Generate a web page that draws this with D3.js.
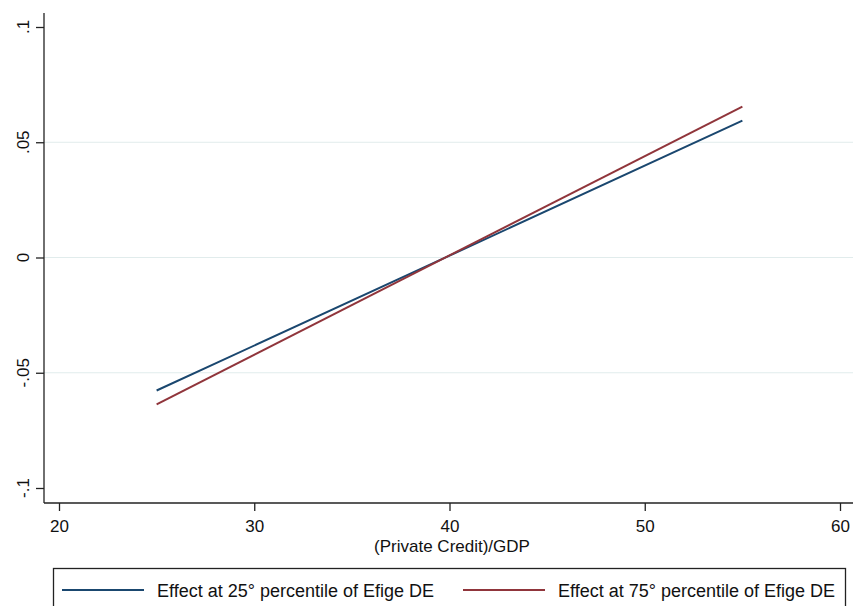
<!DOCTYPE html>
<html>
<head>
<meta charset="utf-8">
<script src="https://cdn.jsdelivr.net/npm/d3@7"></script>
<style>
  html, body { margin: 0; padding: 0; background: #fff; }
  svg { display: block; font-family: "Liberation Sans", Arial, sans-serif; }
</style>
</head>
<body>
<div id="chart"></div>
<script>
const xTicks = [20, 30, 40, 50, 60];
const yTicks = [-0.1, -0.05, 0, 0.05, 0.1];
const yTickLabels = ["-.1", "-.05", "0", ".05", ".1"];
const gridTicks = [-0.05, 0, 0.05];

const creditValues = [25, 40, 55];
const effect25 = [-0.0577, 0.0008, 0.0594];
const effect75 = [-0.0637, 0.0009, 0.0655];

const seriesNames = ["Effect at 25° percentile of Efige DE", "Effect at 75° percentile of Efige DE"];
const seriesColors = ["#1a476f", "#90353b"];

const width = 853, height = 606;
const axisX = 44, axisY = 503;

const svg = d3.select("#chart").append("svg")
    .attr("width", width)
    .attr("height", height);

const x = d3.scaleLinear().domain([20, 60]).range([59, 840]);
const y = d3.scaleLinear().domain([-0.1, 0.1]).range([488, 27]);

// gridlines
svg.append("g")
    .selectAll("line")
    .data(gridTicks)
    .join("line")
    .attr("x1", axisX)
    .attr("x2", width)
    .attr("y1", d => y(d))
    .attr("y2", d => y(d))
    .attr("stroke", "#e1ecec")
    .attr("stroke-width", 1);

// y axis
const yAxis = svg.append("g")
    .attr("transform", `translate(${axisX},0)`)
    .call(d3.axisLeft(y).tickValues(yTicks).tickSize(8).tickFormat(""));
yAxis.select(".domain").remove();
yAxis.selectAll(".tick line").attr("stroke", "#222").attr("stroke-width", 1.3);

svg.append("g")
    .selectAll("text")
    .data(yTicks)
    .join("text")
    .attr("transform", d => `translate(29,${y(d)}) rotate(-90)`)
    .attr("text-anchor", "middle")
    .attr("fill", "#111")
    .style("font-size", "17px")
    .text((d, i) => yTickLabels[i]);

svg.append("line")
    .attr("x1", axisX).attr("x2", axisX)
    .attr("y1", 13).attr("y2", axisY)
    .attr("stroke", "#222").attr("stroke-width", 1.3);

// x axis
const xAxis = svg.append("g")
    .attr("transform", `translate(0,${axisY})`)
    .call(d3.axisBottom(x).tickValues(xTicks).tickSize(8).tickPadding(9).tickFormat(d3.format("d")));
xAxis.select(".domain").remove();
xAxis.selectAll(".tick line").attr("stroke", "#222").attr("stroke-width", 1.3);
xAxis.selectAll(".tick text")
    .attr("fill", "#111")
    .style("font-size", "17px")
    .style("font-family", "'Liberation Sans', Arial, sans-serif");

svg.append("line")
    .attr("x1", axisX).attr("x2", width)
    .attr("y1", axisY).attr("y2", axisY)
    .attr("stroke", "#222").attr("stroke-width", 1.3);

svg.append("text")
    .attr("x", 452)
    .attr("y", 552)
    .attr("text-anchor", "middle")
    .attr("fill", "#111")
    .style("font-size", "17px")
    .text("(Private Credit)/GDP");

// lines
const line = d3.line()
    .x(d => x(d[0]))
    .y(d => y(d[1]));

[effect25, effect75].forEach((vals, i) => {
    svg.append("path")
        .datum(creditValues.map((c, j) => [c, vals[j]]))
        .attr("fill", "none")
        .attr("stroke", seriesColors[i])
        .attr("stroke-width", 2)
        .attr("d", line);
});

// legend
svg.append("rect")
    .attr("x", 53.5).attr("y", 568.5)
    .attr("width", 792).attr("height", 60)
    .attr("fill", "#fff")
    .attr("stroke", "#222")
    .attr("stroke-width", 1.3);

const legendX = [62, 463];
seriesNames.forEach((name, i) => {
    const g = svg.append("g").attr("transform", `translate(${legendX[i]},590)`);
    g.append("line")
        .attr("x1", 0).attr("x2", 82)
        .attr("y1", 0).attr("y2", 0)
        .attr("stroke", seriesColors[i])
        .attr("stroke-width", 2);
    g.append("text")
        .attr("x", 95)
        .attr("y", 6.5)
        .attr("fill", "#111")
        .style("font-size", "18px")
        .text(name);
});
</script>
</body>
</html>
